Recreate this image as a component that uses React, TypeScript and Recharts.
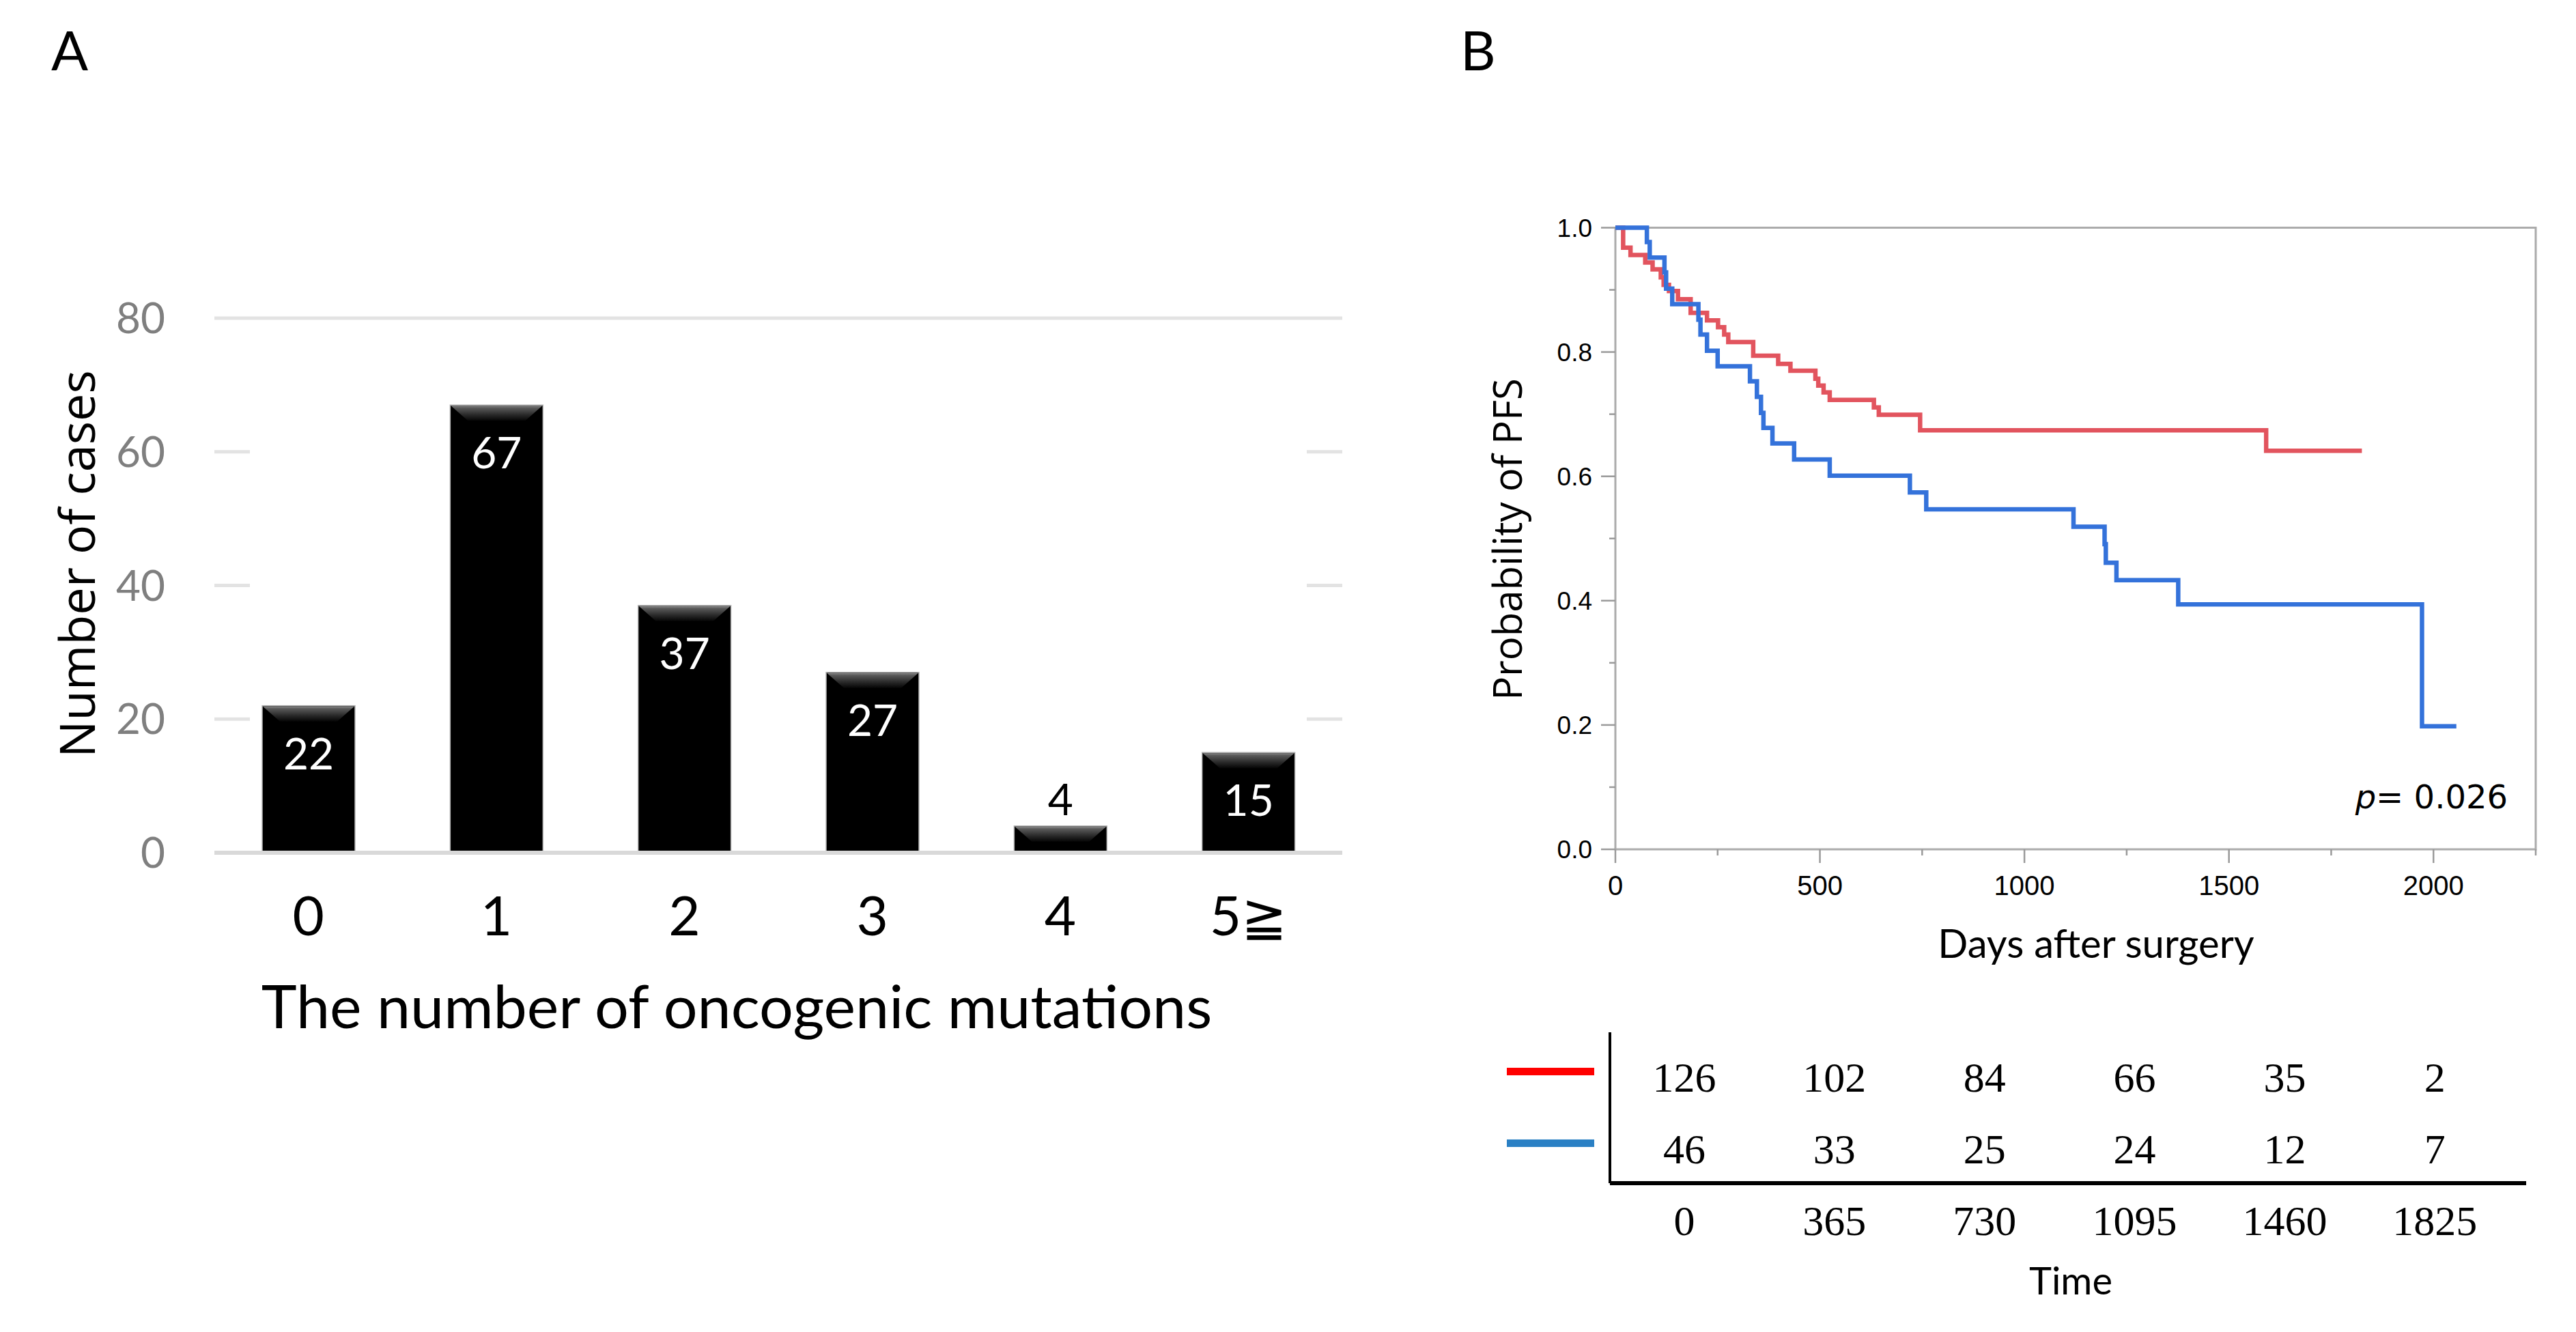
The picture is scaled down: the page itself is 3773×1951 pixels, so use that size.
import React from 'react';
import {
  BarChart, Bar, XAxis, YAxis, ReferenceLine, LabelList,
  LineChart, Line, ReferenceArea, ScatterChart, Scatter,
} from 'recharts';

// ---------- Panel A data ----------
const mutationCategories = ['0', '1', '2', '3', '4', '5≧'];
const caseCounts = [22, 67, 37, 27, 4, 15];
const caseTicks = [0, 20, 40, 60, 80];

// ---------- Panel B data (Kaplan-Meier) ----------
const redDays = [0, 19, 37, 73, 91, 111, 118, 131, 153, 184, 224, 251, 266, 276, 337, 398, 428, 489, 496, 509, 524, 632, 644, 745, 1591, 1825];
const redSurv = [1.0, 0.968, 0.956, 0.944, 0.933, 0.92, 0.908, 0.898, 0.885, 0.863, 0.851, 0.84, 0.828, 0.816, 0.794, 0.781, 0.77, 0.757, 0.746, 0.735, 0.723, 0.711, 0.699, 0.674, 0.641, 0.641];
const blueDays = [0, 77, 84, 120, 124, 139, 203, 208, 224, 250, 329, 346, 356, 362, 384, 437, 524, 720, 760, 1120, 1196, 1199, 1225, 1376, 1972, 2056];
const blueSurv = [1.0, 0.977, 0.952, 0.928, 0.902, 0.877, 0.852, 0.828, 0.802, 0.777, 0.753, 0.728, 0.702, 0.678, 0.653, 0.627, 0.601, 0.574, 0.547, 0.519, 0.491, 0.461, 0.433, 0.394, 0.198, 0.198];
const pfsTicks = [0, 0.1, 0.2, 0.3, 0.4, 0.5, 0.6, 0.7, 0.8, 0.9, 1.0];
const dayTicks = [0, 250, 500, 750, 1000, 1250, 1500, 1750, 2000, 2250];

// ---------- Number at risk ----------
const riskTimes = [0, 365, 730, 1095, 1460, 1825];
const redAtRisk = [126, 102, 84, 66, 35, 2];
const blueAtRisk = [46, 33, 25, 24, 12, 7];
const riskRows = [0, 1];

const RED_LINE = '#e2545e';
const BLUE_LINE = '#3472da';
const RED_KEY = '#ff0000';
const BLUE_KEY = '#2a80c4';

const barData = mutationCategories.map((c, i) => ({ cat: c, n: caseCounts[i] }));
const redData = redDays.map((d, i) => ({ day: d, s: redSurv[i] }));
const blueData = blueDays.map((d, i) => ({ day: d, s: blueSurv[i] }));
const redRisk = riskTimes.map((t, i) => ({ t, row: 1, n: redAtRisk[i] }));
const blueRisk = riskTimes.map((t, i) => ({ t, row: 0, n: blueAtRisk[i] }));

const CAL = 'Lato, "Open Sans", sans-serif';

const BevelBar = (props: any) => {
  const { x, y, width, height, index } = props;
  if (width == null || height == null) return null;
  const id = `bevel${index}`;
  const bh = Math.min(23, height);
  const inset = Math.min(26, width / 2);
  return (
    <g>
      <defs>
        <linearGradient id={id} x1="0" y1="0" x2="0" y2="1">
          <stop offset="0" stopColor="#8a8a8a" />
          <stop offset="0.15" stopColor="#5a5a5a" />
          <stop offset="0.6" stopColor="#2a2a2a" />
          <stop offset="1" stopColor="#050505" />
        </linearGradient>
      </defs>
      <rect x={x} y={y} width={width} height={height} fill="#000" stroke="#b5b5b5" strokeWidth={1.5} />
      <polygon
        points={`${x + 1},${y + 1} ${x + width - 1},${y + 1} ${x + width - inset},${y + bh} ${x + inset},${y + bh}`}
        fill={`url(#${id})`}
      />
    </g>
  );
};

const BarValueLabel = (props: any) => {
  const { x, y, width, value } = props;
  const inside = value >= 10;
  return (
    <text
      x={x + width / 2}
      y={inside ? y + 93 : y - 16}
      textAnchor="middle"
      fontFamily={CAL}
      fontSize={64}
      fill={inside ? '#ffffff' : '#000000'}
    >
      {value}
    </text>
  );
};

const GridShape = (props: any) => {
  const { x1, x2, y1, full } = props;
  if (full) {
    return <line x1={x1} x2={x2} y1={y1} y2={y1} stroke="#e3e3e3" strokeWidth={5} />;
  }
  return (
    <g>
      <line x1={x1} x2={x1 + 52} y1={y1} y2={y1} stroke="#e3e3e3" strokeWidth={5} />
      <line x1={x2 - 52} x2={x2} y1={y1} y2={y1} stroke="#e3e3e3" strokeWidth={5} />
    </g>
  );
};

const KMXTick = (props: any) => {
  const { x, y, payload } = props;
  const v = payload.value;
  const major = v % 500 === 0;
  return (
    <g>
      <line x1={x} x2={x} y1={y} y2={y + (major ? 20 : 9)} stroke="#9a9a9a" strokeWidth={2.5} />
      {major && (
        <text x={x} y={y + 67} textAnchor="middle" fontFamily="'Liberation Sans', Arial, sans-serif" fontSize={40} fill="#000">
          {v}
        </text>
      )}
    </g>
  );
};

const KMYTick = (props: any) => {
  const { x, y, payload } = props;
  const v = payload.value;
  const major = Math.round(v * 10) % 2 === 0;
  return (
    <g>
      <line x1={x - (major ? 21 : 9)} x2={x} y1={y} y2={y} stroke="#9a9a9a" strokeWidth={2.5} />
      {major && (
        <text x={x - 34} y={y + 13} textAnchor="end" fontFamily="'Liberation Sans', Arial, sans-serif" fontSize={37} fill="#000">
          {v.toFixed(1)}
        </text>
      )}
    </g>
  );
};

const RiskKeyTick = (props: any) => {
  const { x, y, payload } = props;
  const color = payload.value === 1 ? RED_KEY : BLUE_KEY;
  return <rect x={x - 151} y={y - 15} width={128} height={11} fill={color} />;
};

const RiskCell = (props: any) => {
  const { cx, cy, payload } = props;
  return (
    <text x={cx} y={cy + 20} textAnchor="middle" fontFamily="'Liberation Serif', 'Times New Roman', serif" fontSize={62} fill="#000">
      {payload.n}
    </text>
  );
};

export default function App() {
  return (
    <div style={{ position: 'relative', width: 3773, height: 1951, background: '#fff', overflow: 'hidden' }}>
      <style>{'body{margin:0;background:#fff}'}</style>

      {/* Panel A */}
      <div style={{ position: 'absolute', left: 0, top: 0 }}>
        <BarChart width={2000} height={1560} data={barData} margin={{ top: 466, right: 34, left: 114, bottom: 161 }}>
          <XAxis
            dataKey="cat"
            height={150}
            axisLine={{ stroke: '#d9d9d9', strokeWidth: 6 }}
            tickLine={false}
            tickSize={0}
            tickMargin={64}
            interval={0}
            tick={{ fontFamily: CAL, fontSize: 80, fill: '#000' }}
          />
          <YAxis
            type="number"
            domain={[0, 80]}
            ticks={caseTicks}
            width={200}
            axisLine={false}
            tickLine={false}
            tickSize={0}
            tickMargin={72}
            tick={{ fontFamily: CAL, fontSize: 62, fill: '#7f7f7f' }}
          />
          {caseTicks.filter((t) => t > 0).map((t) => (
            <ReferenceLine key={t} y={t} shape={(p: any) => <GridShape {...p} full={t === 80} />} />
          ))}
          <Bar dataKey="n" barSize={136} isAnimationActive={false} shape={<BevelBar />}>
            <LabelList dataKey="n" content={<BarValueLabel />} />
          </Bar>
        </BarChart>
      </div>

      {/* Panel B: Kaplan-Meier */}
      <div style={{ position: 'absolute', left: 2100, top: 250 }}>
        <LineChart width={1700} height={1150} margin={{ top: 83.5, right: 86, left: 66, bottom: 56 }}>
          <XAxis
            type="number"
            dataKey="day"
            domain={[0, 2250]}
            ticks={dayTicks}
            interval={0}
            height={100}
            axisLine={false}
            tickLine={false}
            tickSize={0}
            tickMargin={0}
            tick={<KMXTick />}
          />
          <YAxis
            type="number"
            domain={[0, 1]}
            ticks={pfsTicks}
            interval={0}
            width={200}
            axisLine={false}
            tickLine={false}
            tickSize={0}
            tickMargin={0}
            tick={<KMYTick />}
          />
          <ReferenceArea x1={0} x2={2250} y1={0} y2={1} fill="none" fillOpacity={0} stroke="#ababab" strokeWidth={3} />
          <Line data={redData} dataKey="s" type="stepAfter" stroke={RED_LINE} strokeWidth={6.5} dot={false} isAnimationActive={false} />
          <Line data={blueData} dataKey="s" type="stepAfter" stroke={BLUE_LINE} strokeWidth={6.5} dot={false} isAnimationActive={false} />
        </LineChart>
      </div>

      {/* Number at risk table */}
      <div style={{ position: 'absolute', left: 2150, top: 1450 }}>
        <ScatterChart width={1600} height={400} margin={{ top: 62, right: 50, left: 28, bottom: 37 }}>
          <XAxis
            type="number"
            dataKey="t"
            domain={[-181, 2047]}
            ticks={riskTimes}
            interval={0}
            height={80}
            axisLine={{ stroke: '#000', strokeWidth: 6 }}
            tickLine={false}
            tickSize={0}
            tickMargin={32}
            tick={{ fontFamily: "'Liberation Serif', 'Times New Roman', serif", fontSize: 62, fill: '#000' }}
          />
          <YAxis
            type="number"
            dataKey="row"
            domain={[-0.467, 1.638]}
            ticks={riskRows}
            interval={0}
            width={180}
            axisLine={{ stroke: '#000', strokeWidth: 4 }}
            tickLine={false}
            tickSize={0}
            tickMargin={0}
            tick={<RiskKeyTick />}
          />
          <Scatter data={redRisk} isAnimationActive={false} shape={<RiskCell />} />
          <Scatter data={blueRisk} isAnimationActive={false} shape={<RiskCell />} />
        </ScatterChart>
      </div>

      {/* Titles & panel letters */}
      <svg width={3773} height={1951} style={{ position: 'absolute', left: 0, top: 0, pointerEvents: 'none' }}>
        <text x={75} y={103} fontFamily={CAL} fontSize={80} fill="#000">A</text>
        <text x={2139} y={103} fontFamily={CAL} fontSize={80} fill="#000">B</text>
        <text x={139} y={826} transform="rotate(-90 139 826)" textAnchor="middle" fontFamily="'Open Sans', sans-serif" fontSize={72} fill="#000">
          Number of cases
        </text>
        <text x={1079} y={1506} textAnchor="middle" fontFamily={CAL} fontSize={88} fill="#000">
          The number of oncogenic mutations
        </text>
        <text x={2229} y={790} transform="rotate(-90 2229 790)" textAnchor="middle" fontFamily="'Open Sans', sans-serif" fontSize={58} fill="#000">
          Probability of PFS
        </text>
        <text x={3070} y={1403} textAnchor="middle" fontFamily={CAL} fontSize={58} fill="#000">
          Days after surgery
        </text>
        <text x={3673} y={1184} textAnchor="end" fontFamily="'DejaVu Sans', sans-serif" fontSize={48} fill="#000">
          <tspan fontStyle="italic">p</tspan>= 0.026
        </text>
        <text x={3033} y={1896} textAnchor="middle" fontFamily={CAL} fontSize={56} fill="#000">
          Time
        </text>
      </svg>
    </div>
  );
}
